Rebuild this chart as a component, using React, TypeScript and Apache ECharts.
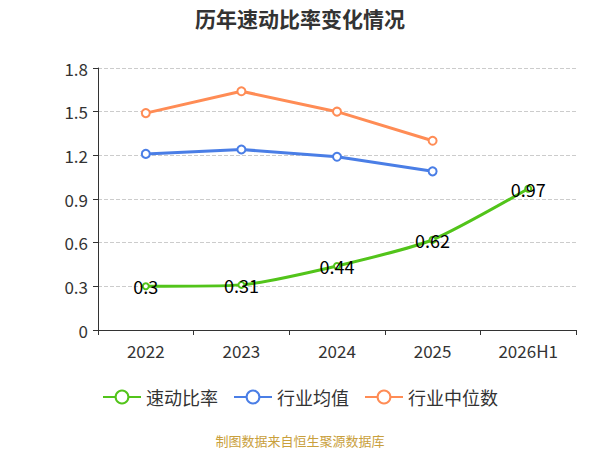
import { useEffect, useRef } from 'react';
import * as echarts from 'echarts';

const categories = ['2022', '2023', '2024', '2025', '2026H1'];
const quickRatio = [0.3, 0.31, 0.44, 0.62, 0.97];
const industryMean = [1.21, 1.24, 1.19, 1.09];
const industryMedian = [1.49, 1.64, 1.5, 1.3];

const GREEN = '#52c41a';
const BLUE = '#4a7ee6';
const ORANGE = '#ff8c55';

export default function App() {
  const elRef = useRef<HTMLDivElement | null>(null);

  useEffect(() => {
    const el = elRef.current;
    if (!el) return;
    const chart = echarts.init(el, undefined, { renderer: 'svg' });
    const font = "'Noto Sans CJK SC', 'Noto Sans', sans-serif";

    const lineSeries = (name: string, data: number[], color: string, extra: object = {}) => ({
      name,
      type: 'line',
      data,
      symbol: 'emptyCircle',
      symbolSize: 8,
      color,
      lineStyle: { width: 3, color },
      itemStyle: { color, borderColor: color, borderWidth: 2 },
      ...extra,
    });

    chart.setOption({
      animation: false,
      textStyle: { fontFamily: font },
      title: {
        text: '历年速动比率变化情况',
        left: 'center',
        top: 7,
        padding: 0,
        textStyle: { fontSize: 21, fontWeight: 'bold', color: '#333', fontFamily: font },
      },
      legend: {
        bottom: 39,
        itemWidth: 38,
        itemHeight: 16,
        itemGap: 15,
        textStyle: { fontSize: 18, color: '#333' },
        data: ['速动比率', '行业均值', '行业中位数'],
      },
      graphic: [
        {
          type: 'text',
          left: 'center',
          bottom: 3,
          style: { text: '制图数据来自恒生聚源数据库', fill: '#c9a03c', fontSize: 13, fontFamily: font },
        },
      ],
      grid: { left: 98, right: 24, top: 68, bottom: 120 },
      xAxis: {
        type: 'category',
        data: categories,
        axisLine: { lineStyle: { color: '#333' } },
        axisTick: { show: true, lineStyle: { color: '#333' } },
        axisLabel: { fontSize: 17, color: '#333', margin: 12 },
      },
      yAxis: {
        type: 'value',
        min: 0,
        max: 1.8,
        interval: 0.3,
        axisLine: { show: true, lineStyle: { color: '#333' } },
        axisTick: { show: true, lineStyle: { color: '#333' } },
        axisLabel: { fontSize: 17, color: '#333', margin: 10 },
        splitLine: { lineStyle: { type: 'dashed', color: '#ccc' } },
      },
      series: [
        lineSeries('速动比率', quickRatio, GREEN, {
          smooth: 0.2,
          symbolSize: 6,
          label: { show: true, position: 'inside', fontSize: 18, color: '#000' },
          z: 3,
        }),
        lineSeries('行业均值', industryMean, BLUE),
        lineSeries('行业中位数', industryMedian, ORANGE),
      ],
    });

    return () => {
      chart.dispose();
    };
  }, []);

  return (
    <div
      ref={elRef}
      style={{ position: 'absolute', left: 0, top: 0, width: 600, height: 450 }}
    />
  );
}
